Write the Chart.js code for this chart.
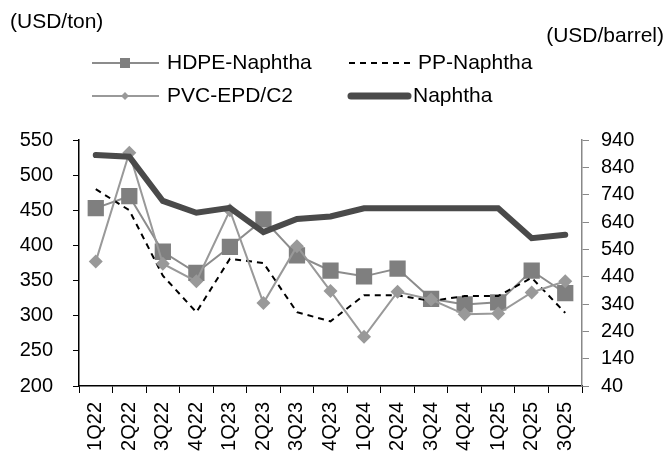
<!DOCTYPE html>
<html>
<head>
<meta charset="utf-8">
<script src="https://cdn.jsdelivr.net/npm/chart.js@4.4.1/dist/chart.umd.min.js"></script>
<style>
  body { margin: 0; background: #fff; }
  #wrap { width: 669px; height: 452px; }
</style>
</head>
<body>
<div id="wrap"><canvas id="myChart" width="669" height="452"></canvas></div>
<script>
// quarters on the x axis
const quarters = ['1Q22', '2Q22', '3Q22', '4Q22', '1Q23', '2Q23', '3Q23', '4Q23',
                  '1Q24', '2Q24', '3Q24', '4Q24', '1Q25', '2Q25', '3Q25'];
// spreads, USD/ton (left axis)
const hdpeNaphtha = [453, 470, 391, 361, 398, 437, 386, 364, 356, 367, 324, 316, 319, 364, 332];
const ppNaphtha   = [480, 450, 357, 305, 381, 375, 305, 292, 329, 329, 321, 328, 328, 354, 304];
const pvcEpdC2    = [377, 532, 374, 349, 450, 318, 399, 335, 270, 334, 323, 302, 303, 333, 349];
// naphtha price (right axis)
const naphtha     = [885, 879, 717, 674, 692, 603, 651, 660, 690, 690, 690, 690, 690, 581, 593];

const FONT = "'Liberation Sans', Arial, sans-serif";

// titles + two-column legend drawn on the canvas
const extras = {
    id: 'extras',
    afterDraw(chart) {
        const c = chart.ctx;
        c.save();
        c.font = '21px ' + FONT;
        c.fillStyle = '#000';
        c.textBaseline = 'middle';
        c.textAlign = 'left';
        c.fillText('(USD/ton)', 10, 22);
        c.textAlign = 'right';
        c.fillText('(USD/barrel)', 664, 36);
        c.textAlign = 'left';

        // HDPE-Naphtha
        c.strokeStyle = '#8c8c8c';
        c.lineWidth = 2;
        c.beginPath(); c.moveTo(92, 63); c.lineTo(159, 63); c.stroke();
        c.fillStyle = '#7f7f7f';
        c.fillRect(120, 58, 10, 10);
        c.fillStyle = '#000';
        c.fillText('HDPE-Naphtha', 167, 63);

        // PVC-EPD/C2
        c.strokeStyle = '#999';
        c.beginPath(); c.moveTo(92, 96); c.lineTo(159, 96); c.stroke();
        c.fillStyle = '#999';
        c.beginPath(); c.moveTo(125, 92); c.lineTo(129, 96); c.lineTo(125, 100); c.lineTo(121, 96); c.closePath(); c.fill();
        c.fillStyle = '#000';
        c.fillText('PVC-EPD/C2', 167, 96);

        // PP-Naphtha
        c.strokeStyle = '#000';
        c.lineWidth = 2;
        c.setLineDash([6, 5]);
        c.beginPath(); c.moveTo(349, 63); c.lineTo(412, 63); c.stroke();
        c.setLineDash([]);
        c.fillText('PP-Naphtha', 418, 63);

        // Naphtha
        c.strokeStyle = '#4a4a4a';
        c.lineWidth = 7;
        c.lineCap = 'round';
        c.beginPath(); c.moveTo(351, 96); c.lineTo(408, 96); c.stroke();
        c.fillText('Naphtha', 413, 96);
        c.restore();
    }
};

function drawChart() {
    const ctx = document.getElementById('myChart').getContext('2d');
    new Chart(ctx, {
        type: 'line',
        data: {
            labels: quarters,
            datasets: [
                {
                    label: 'HDPE-Naphtha',
                    data: hdpeNaphtha,
                    yAxisID: 'y',
                    borderColor: '#8c8c8c',
                    borderWidth: 2,
                    pointStyle: 'rect',
                    pointRadius: 11.5,
                    pointBackgroundColor: '#7f7f7f',
                    pointBorderWidth: 0,
                    tension: 0,
                    order: 4
                },
                {
                    label: 'PP-Naphtha',
                    data: ppNaphtha,
                    yAxisID: 'y',
                    borderColor: '#000',
                    borderWidth: 2,
                    borderDash: [6, 5],
                    pointRadius: 0,
                    tension: 0,
                    order: 3
                },
                {
                    label: 'PVC-EPD/C2',
                    data: pvcEpdC2,
                    yAxisID: 'y',
                    borderColor: '#999',
                    borderWidth: 2,
                    pointStyle: 'rectRot',
                    pointRadius: 7,
                    pointBackgroundColor: '#999',
                    pointBorderWidth: 0,
                    tension: 0,
                    order: 2
                },
                {
                    label: 'Naphtha',
                    data: naphtha,
                    yAxisID: 'y1',
                    borderColor: '#4a4a4a',
                    borderWidth: 6,
                    borderCapStyle: 'round',
                    pointRadius: 0,
                    tension: 0,
                    order: 1
                }
            ]
        },
        options: {
            responsive: false,
            animation: false,
            layout: { padding: { top: 140, left: 0, right: 0, bottom: 0 } },
            plugins: { legend: { display: false }, tooltip: { enabled: false } },
            scales: {
                x: {
                    offset: true,
                    grid: { display: true, offset: true, drawOnChartArea: false, tickLength: 7, color: '#000' },
                    border: { color: '#000', width: 1.5 },
                    ticks: { color: '#000', font: { family: FONT, size: 20 }, maxRotation: 90, minRotation: 90, padding: 9, autoSkip: false },
                    afterFit(s) { s.height = 66; }
                },
                y: {
                    position: 'left',
                    min: 200, max: 550,
                    grid: { display: true, drawOnChartArea: false, tickLength: 6, color: '#000' },
                    border: { color: '#000', width: 1.5 },
                    ticks: { stepSize: 50, color: '#000', font: { family: FONT, size: 20 }, padding: 20 },
                    afterFit(s) { s.width = 79; }
                },
                y1: {
                    position: 'right',
                    min: 40, max: 940,
                    grid: { display: true, drawOnChartArea: false, tickLength: 7, color: '#888' },
                    border: { color: '#888', width: 1.5 },
                    ticks: { stepSize: 100, color: '#000', font: { family: FONT, size: 20 }, padding: 12 },
                    afterFit(s) { s.width = 87; }
                }
            }
        },
        plugins: [extras]
    });
}

drawChart();
</script>
</body>
</html>
